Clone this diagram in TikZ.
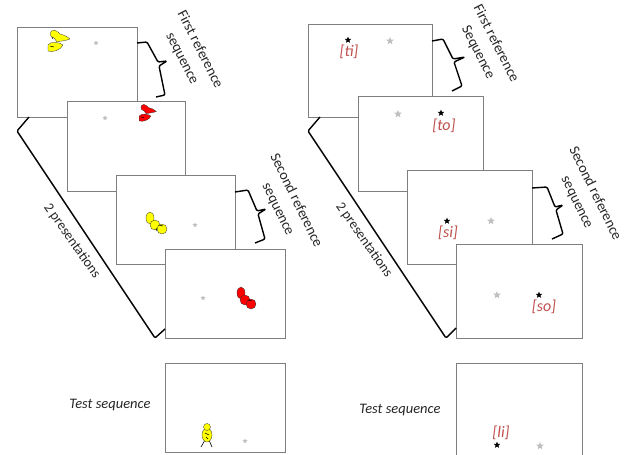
\documentclass[tikz,border=0pt]{standalone}
\usepackage{fontspec}
\setmainfont{Carlito}
\usetikzlibrary{shapes.geometric}
\definecolor{frame}{HTML}{7F7F7F}
\definecolor{lbl}{HTML}{C0504D}
\definecolor{txt}{HTML}{262626}
\definecolor{duck}{HTML}{FFFF00}
\definecolor{bird}{HTML}{FF0000}
\definecolor{paleStar}{HTML}{BFBFBF}

\begin{document}
\begin{tikzpicture}[x=1pt,y=-1pt,
  screen/.style={draw=frame, line width=0.8pt, fill=white, anchor=north west,
    inner sep=0pt, outer sep=0pt},
  bracket/.style={draw=black, line width=1.4pt, line join=round, rounded corners=1.2pt},
  caption/.style={font=\fontsize{14.5}{20}\selectfont, text=txt, align=center, inner sep=0pt},
  testcap/.style={font=\fontsize{14.5}{17}\selectfont\itshape, text=txt, inner sep=0pt},
  syl/.style={font=\fontsize{16}{18}\selectfont\itshape, text=lbl, inner sep=0pt},
  darkstar/.style={star, star points=5, star point ratio=2.3, minimum size=7pt,
    inner sep=0pt, fill=black},
  greystar/.style={star, star points=5, star point ratio=2.3, minimum size=8pt,
    inner sep=0pt, fill=paleStar},
  dot/.style={star, star points=5, star point ratio=2, minimum size=5pt,
    inner sep=0pt, fill=paleStar},
  skin/.style={draw=black!80, line width=0.3pt},
]
\useasboundingbox (0,0) rectangle (629,455);

% ---------------- left column: animated creatures ----------------
\node[screen, minimum width=120pt, minimum height=90pt] (L1) at (17,27) {};
\node[dot] (Ld1) at (96,43) {};
\begin{scope}[shift={(58,41)}]
  \filldraw[fill=duck, skin] (-4,-3) .. controls (-9,-3) and (-9,-11) .. (-4,-11)
     .. controls (-1,-11) and (0,-8) .. (2,-7)
     .. controls (6,-6) and (10,-4) .. (12,-2)
     .. controls (7,0) and (2,0) .. (-1,1) -- cycle;
  \filldraw[fill=duck, skin] (-10,4) .. controls (-8,0) and (2,1) .. (5,4)
     .. controls (3,9) and (-6,12) .. (-10,10) -- cycle;
  \draw[black, line width=0.5pt] (-8,5) -- (-4,6) (-6,-4) -- (-5,-2);
\end{scope}

\node[screen, minimum width=118pt, minimum height=90pt] (L2) at (67,101) {};
\node[dot] (Ld2) at (105,118) {};
\begin{scope}[shift={(147,113)}, scale=0.78]
  \filldraw[fill=bird, skin] (-4,-3) .. controls (-9,-3) and (-9,-11) .. (-4,-11)
     .. controls (-1,-11) and (0,-8) .. (2,-7)
     .. controls (6,-6) and (10,-4) .. (12,-2)
     .. controls (7,0) and (2,0) .. (-1,1) -- cycle;
  \filldraw[fill=bird, skin] (-10,4) .. controls (-8,0) and (2,1) .. (5,4)
     .. controls (3,9) and (-6,12) .. (-10,10) -- cycle;
  \draw[black, line width=0.5pt] (-8,5) -- (-4,6);
\end{scope}

\node[screen, minimum width=119pt, minimum height=89pt] (L3) at (116,175) {};
\node[dot] (Ld3) at (195,225) {};
\filldraw[fill=duck, skin] (150,218) ellipse[x radius=4, y radius=6];
\filldraw[fill=duck, skin] (155,225) circle[radius=5];
\filldraw[fill=duck, skin] (162,229) circle[radius=5];
\draw[black, line width=0.5pt] (159,225) -- (163,226) (156,228) -- (157,231);

\node[screen, minimum width=120pt, minimum height=89pt] (L4) at (165,249) {};
\node[dot] (Ld4) at (203,298) {};
\filldraw[fill=bird, skin] (241,293) ellipse[x radius=4, y radius=6];
\filldraw[fill=bird, skin] (245,300) circle[radius=5];
\filldraw[fill=bird, skin] (251,304) circle[radius=5];
\draw[black, line width=0.5pt] (248,300) -- (252,301);

\node[screen, minimum width=120pt, minimum height=89pt] (LT) at (165,363) {};
\node[dot] (Ld5) at (245,441) {};
\draw[black, line width=0.6pt] (205,440) -- (201,447) (209,440) -- (212,447);
\filldraw[fill=duck, skin] (207,435) ellipse[x radius=5, y radius=7];
\filldraw[fill=duck, skin] (207,427) circle[radius=3.5];
\draw[black, line width=0.5pt] (205,433) -- (209,435) (206,437) -- (208,439);

% braces and brackets, left column
\coordinate (LbA) at (L1.east |- 0,43);
\draw[bracket] (LbA) -- (147,42) -- (158,62) -- (167,61) -- (159,66) -- (165,95) -- (156,97);
\coordinate (LbB) at (L3.east |- 0,192);
\draw[bracket] (LbB) -- (248,190) -- (257,211) -- (266,209) -- (258,214) -- (265,239) -- (255,243);
\coordinate (LpA) at (L1.south west -| 29,0);
\coordinate (LpB) at (L4.west |- 0,329);
\draw[bracket] (LpA) -- (17,131) -- (155,338) -- (LpB);

\node[caption, rotate=-63] (LcapA) at (191,54) {First reference\\sequence};
\node[caption, rotate=-64] (LcapB) at (287,205) {Second reference\\sequence};
\node[caption, font=\fontsize{14}{17}\selectfont, rotate=-55] (LcapP) at (72,241) {2 presentations};
\node[testcap] (LcapT) at (110,405) {Test sequence};

% ---------------- right column: syllables ----------------
\node[screen, minimum width=124pt, minimum height=93pt] (R1) at (308,24) {};
\node[darkstar] (Rk1) at (348,40) {};
\node[greystar] (Rg1) at (390,41) {};
\node[syl] (Rs1) at (349,52) {[ti]};

\node[screen, minimum width=125pt, minimum height=95pt] (R2) at (358,96) {};
\node[greystar] (Rg2) at (398,114) {};
\node[darkstar] (Rk2) at (441,113) {};
\node[syl] (Rs2) at (444,126) {[to]};

\node[screen, minimum width=125pt, minimum height=94pt] (R3) at (407,170) {};
\node[darkstar] (Rk3) at (447,221) {};
\node[greystar] (Rg3) at (491,221) {};
\node[syl] (Rs3) at (448,233) {[si]};

\node[screen, minimum width=126pt, minimum height=94pt] (R4) at (456,244) {};
\node[greystar] (Rg4) at (497,295) {};
\node[darkstar] (Rk4) at (539,295) {};
\node[syl] (Rs4) at (544,307) {[so]};

\node[screen, minimum width=126pt, minimum height=96pt] (RT) at (456,363) {};
\node[syl] (Rs5) at (501,433) {[li]};
\node[darkstar] (Rk5) at (497,445) {};
\node[greystar] (Rg5) at (540,446) {};

% braces and brackets, right column
\coordinate (RbA) at (R1.east |- 0,41);
\draw[bracket] (RbA) -- (443,39) -- (453,59) -- (465,57) -- (454,62) -- (462,86) -- (452,91);
\coordinate (RbB) at (R3.east |- 0,188);
\draw[bracket] (RbB) -- (547,187) -- (555,207) -- (563,205) -- (556,210) -- (563,234) -- (552,239);
\coordinate (RpA) at (R1.south west -| 320,0);
\coordinate (RpB) at (R4.west |- 0,328);
\draw[bracket] (RpA) -- (308,131) -- (446,338) -- (RpB);

\node[caption, rotate=-63] (RcapA) at (487,48) {First reference\\Sequence};
\node[caption, rotate=-64] (RcapB) at (586,198) {Second reference\\sequence};
\node[caption, font=\fontsize{14}{17}\selectfont, rotate=-55] (RcapP) at (364,240) {2 presentations};
\node[testcap] (RcapT) at (400,410) {Test sequence};
\end{tikzpicture}
\end{document}
